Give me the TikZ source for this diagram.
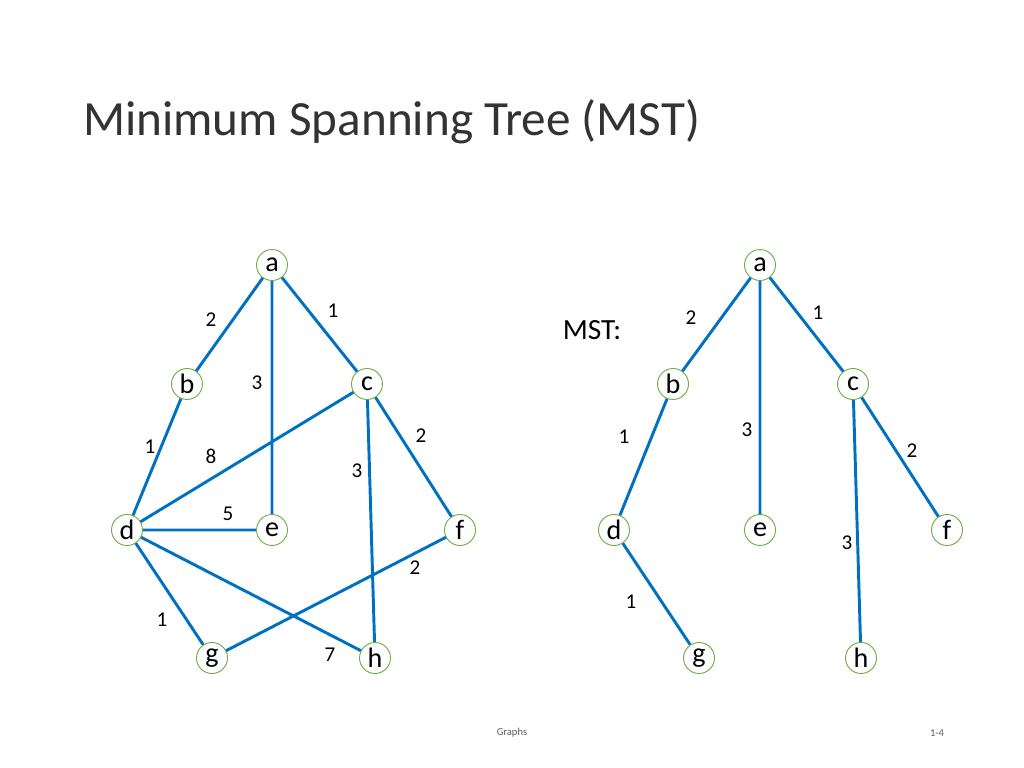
\documentclass[tikz,border=0pt]{standalone}
\usepackage{fontspec}
\setmainfont{Carlito}
\definecolor{edgeblue}{RGB}{0,112,192}
\definecolor{ringgreen}{RGB}{112,173,71}
\tikzset{
  vert/.style={circle,draw=ringgreen,fill=white,line width=0.8pt,minimum size=0.93cm,inner sep=0pt,font=\fontsize{24}{24}\selectfont},
  edge/.style={edgeblue,line width=2.5pt},
  wt/.style={font=\fontsize{18}{18}\selectfont}
}
\begin{document}
\begin{tikzpicture}[x=0.03cm,y=-0.03cm]
        \useasboundingbox (0,0) rectangle (1024,768);
        % title and footer
        \node[anchor=base west,inner sep=0pt,font=\fontsize{42}{42}\selectfont,black!80] (title) at (83,136) {Minimum Spanning Tree (MST)};
        \node[font=\fontsize{9}{9}\selectfont,gray!70!black] (foot) at (512,733) {Graphs};
        \node[font=\fontsize{9}{9}\selectfont,gray!70!black] (page) at (937,733) {1-4};
        % full graph
        \path (272,265) coordinate (pa) (187,384) coordinate (pb) (367,384) coordinate (pc)
              (127,530) coordinate (pd) (272,530) coordinate (pe) (460,530) coordinate (pf)
              (212,658) coordinate (pg) (375,658) coordinate (ph);
        \draw[edge] (pa)--(pb) (pa)--(pc) (pa)--(pe) (pb)--(pd) (pc)--(pd) (pc)--(pf) (pc)--(ph)
                (pd)--(pe) (pd)--(pg) (pd)--(ph) (pg)--(pf);
        \node[vert] (a) at (pa) {a};
        \node[vert] (b) at (pb) {b};
        \node[vert] (c) at (pc) {c};
        \node[vert] (d) at (pd) {d};
        \node[vert] (e) at (pe) {e};
        \node[vert] (f) at (pf) {f};
        \node[vert] (g) at (pg) {g};
        \node[vert] (h) at (ph) {h};
        \node[wt] (wab) at (211,320) {2};
        \node[wt] (wac) at (333,311) {1};
        \node[wt] (wae) at (257,383) {3};
        \node[wt] (wbd) at (150,447) {1};
        \node[wt] (wcd) at (211,456) {8};
        \node[wt] (wcf) at (421,436) {2};
        \node[wt] (wch) at (357,471) {3};
        \node[wt] (wde) at (228,514) {5};
        \node[wt] (wgf) at (415,568) {2};
        \node[wt] (wdg) at (162,620) {1};
        \node[wt] (wdh) at (330,655) {7};
        % spanning tree
        \node[font=\fontsize{25}{25}\selectfont] (mst) at (592,330) {MST:};
        \node[vert] (ta) at (760,265) {a};
        \node[vert] (tb) at (673,384) {b};
        \node[vert] (tc) at (853,384) {c};
        \node[vert] (td) at (614,530) {d};
        \node[vert] (te) at (760,530) {e};
        \node[vert] (tf) at (947,530) {f};
        \node[vert] (tg) at (699,658) {g};
        \node[vert] (th) at (861,658) {h};
        \draw[edge] (ta)--(tb) (ta)--(tc) (ta)--(te) (tb)--(td) (tc)--(tf) (tc)--(th) (td)--(tg);
        \node[wt] (tab) at (691,318) {2};
        \node[wt] (tac) at (818,313) {1};
        \node[wt] (tae) at (747,430) {3};
        \node[wt] (tbd) at (624,437) {1};
        \node[wt] (tcf) at (912,451) {2};
        \node[wt] (tch) at (847,543) {3};
        \node[wt] (tdg) at (631,602) {1};
\end{tikzpicture}
\end{document}
